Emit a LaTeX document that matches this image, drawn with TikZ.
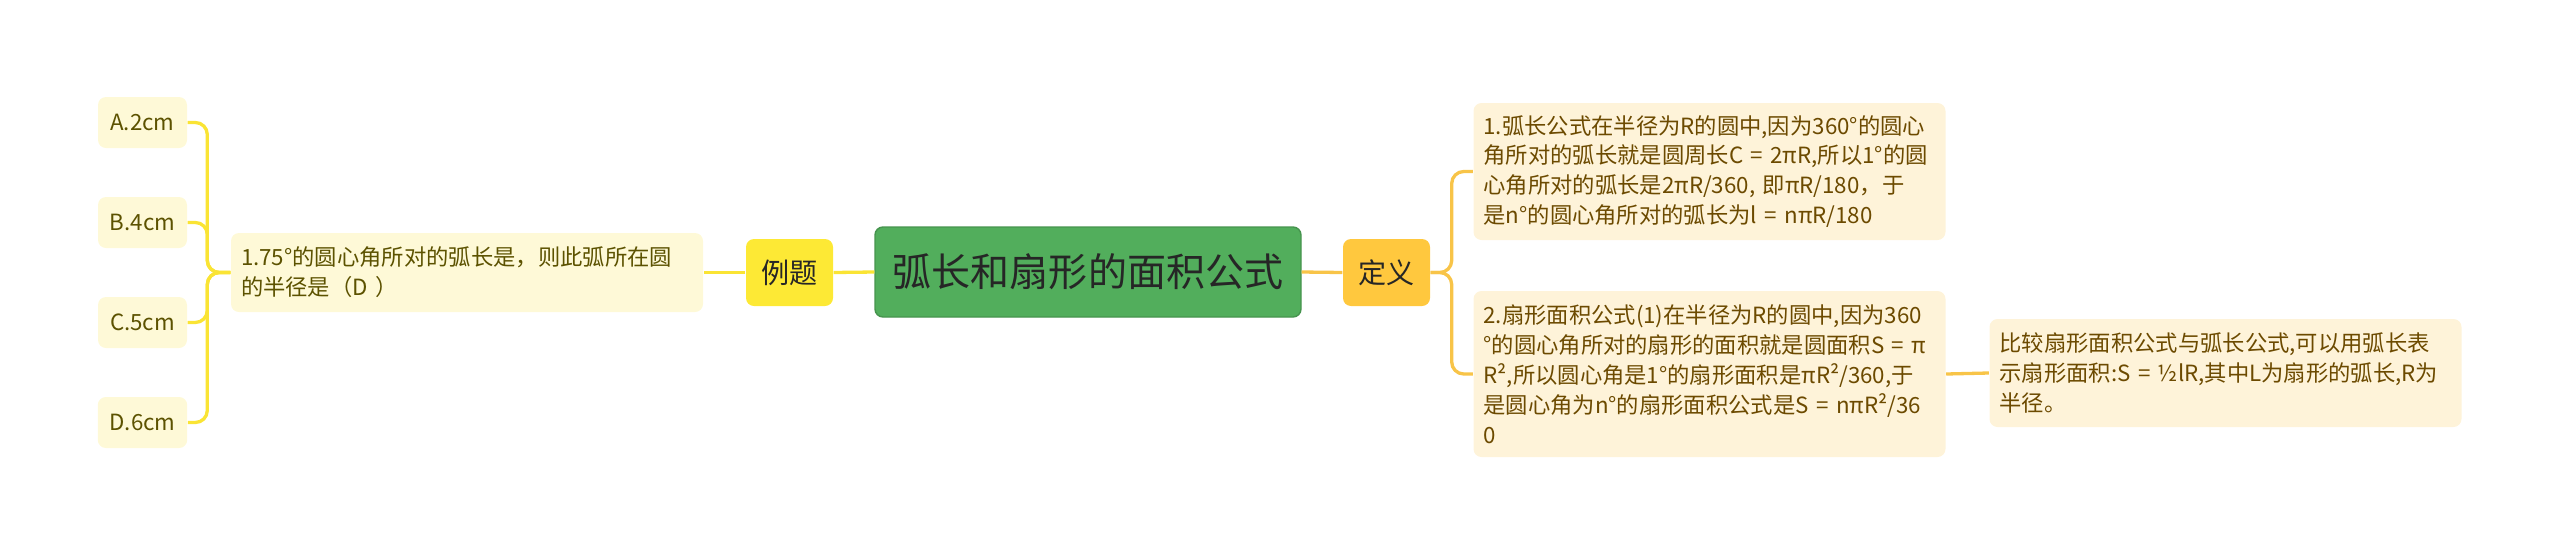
\documentclass[tikz,border=0pt]{standalone}
\usepackage{fontspec}
\setmainfont{Noto Sans CJK SC}
\definecolor{rootgreen}{RGB}{82,174,92}
\definecolor{topyellow}{RGB}{253,233,53}
\definecolor{toporange}{RGB}{255,200,62}
\definecolor{leftfill}{RGB}{254,249,215}
\definecolor{lefttext}{RGB}{92,82,0}
\definecolor{leftline}{RGB}{250,228,52}
\definecolor{rightfill}{RGB}{254,243,217}
\definecolor{righttext}{RGB}{108,74,0}
\definecolor{rightline}{RGB}{248,196,72}

\begin{document}
\begin{tikzpicture}
\tikzstyle{opt} = [rectangle, fill=leftfill, text=lefttext, rounded corners=0.08cm, minimum width=0.89cm, minimum height=0.51cm, font=\fontsize{6.35}{8.5}\selectfont]
\tikzstyle{leaf} = [rectangle, rounded corners=0.08cm, text width=4.52cm, align=left, inner xsep=0.1cm, inner ysep=0.05cm, font=\fontsize{6.35}{8.5}\selectfont]
\tikzstyle{topic} = [rectangle, rounded corners=0.08cm, minimum width=0.87cm, minimum height=0.67cm, text=black!85, font=\fontsize{8}{10}\selectfont]
\tikzstyle{lline} = [leftline, line width=0.033cm, rounded corners=0.12cm]
\tikzstyle{rline} = [rightline, line width=0.033cm, rounded corners=0.12cm]

\useasboundingbox (0,0) rectangle (25.6,-5.54);

\node at (10.88,-2.72) [rectangle, fill=rootgreen, draw=rootgreen!85!black, line width=0.4pt, rounded corners=0.08cm, minimum width=4.26cm, minimum height=0.90cm, text=black!85, font=\fontsize{11.1}{12}\selectfont] (R) {弧长和扇形的面积公式};

\node at (7.895,-2.725) [topic, fill=topyellow] (LT) {例题};
\node at (13.865,-2.725) [topic, fill=toporange] (DY) {定义};

\node at (4.67,-2.725) [leaf, fill=leftfill, text=lefttext, minimum height=0.79cm] (Q) {1.75°的圆心角所对的弧长是，则此弧所在圆\\的半径是（D ）};

\node at (1.425,-1.225) [opt] (A) {A.2cm};
\node at (1.425,-2.225) [opt] (B) {B.4cm};
\node at (1.425,-3.225) [opt] (C) {C.5cm};
\node at (1.425,-4.225) [opt] (D) {D.6cm};

\node at (17.095,-1.715) [leaf, fill=rightfill, text=righttext, minimum height=1.37cm] (D1) {1.弧长公式在半径为R的圆中,因为360°的圆心\\角所对的弧长就是圆周长C = 2πR,所以1°的圆\\心角所对的弧长是2πR/360, 即πR/180，于\\是n°的圆心角所对的弧长为l = nπR/180};
\node at (17.095,-3.74) [leaf, fill=rightfill, text=righttext, minimum height=1.66cm] (D2) {2.扇形面积公式(1)在半径为R的圆中,因为360\\°的圆心角所对的扇形的面积就是圆面积S = π\\R²,所以圆心角是1°的扇形面积是πR²/360,于\\是圆心角为n°的扇形面积公式是S = nπR²/36\\0};
\node at (22.255,-3.73) [leaf, fill=rightfill, text=righttext, minimum height=1.08cm] (T) {比较扇形面积公式与弧长公式,可以用弧长表\\示扇形面积:S = ½lR,其中L为扇形的弧长,R为\\半径。};

\draw[lline] (R.west) -- (LT.east);
\draw[lline] (LT.west) -- (Q.east);
\draw[lline] (Q.west) -- ++(-0.23,0) |- (A.east);
\draw[lline] (Q.west) -- ++(-0.23,0) |- (B.east);
\draw[lline] (Q.west) -- ++(-0.23,0) |- (C.east);
\draw[lline] (Q.west) -- ++(-0.23,0) |- (D.east);

\draw[rline] (R.east) -- (DY.west);
\draw[rline] (DY.east) -- ++(0.21,0) |- (D1.west);
\draw[rline] (DY.east) -- ++(0.21,0) |- (D2.west);
\draw[rline] (D2.east) -- (T.west);

\end{tikzpicture}
\end{document}
